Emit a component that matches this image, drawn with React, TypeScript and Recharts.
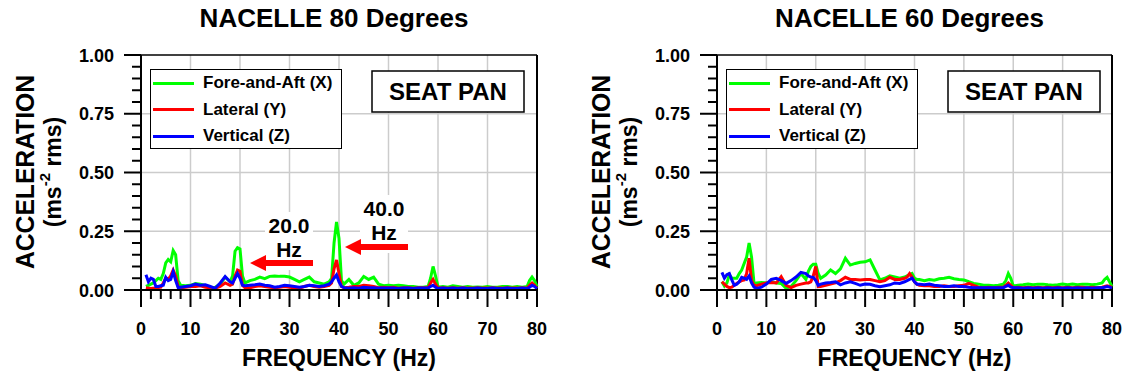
import { Legend, Line, LineChart, ReferenceLine, XAxis, YAxis } from 'recharts';

const FONT = '"Liberation Sans", Arial, Helvetica, sans-serif';

// shared frequency axis (Hz) for every series
const freq = [
  1, 1.5, 2, 2.5, 3, 3.5, 4, 4.5, 5, 5.5, 6, 6.5, 7, 7.5, 8,
  9, 10, 11, 12, 13, 14, 15, 16, 17, 18,
  18.5, 19, 19.5, 20, 20.5, 21,
  22, 23, 24, 25, 26, 27, 28, 29, 30, 31, 32, 33, 34, 35, 36, 37, 38,
  38.5, 39, 39.5, 40, 40.5, 41,
  42, 43, 44, 45, 46, 47, 48, 49, 50, 51, 52, 53, 54, 55, 56, 57, 58,
  58.5, 59, 59.5, 60,
  61, 62, 63, 64, 65, 66, 67, 68, 69, 70, 71, 72, 73, 74, 75, 76, 77, 78,
  78.5, 79, 79.5, 80,
];

// NACELLE 80 degrees, seat pan acceleration (m/s^2 rms)
const n80Fore = [
  0.015, 0.02, 0.025, 0.03, 0.04, 0.05, 0.045, 0.07, 0.115, 0.13, 0.12, 0.168, 0.15, 0.04, 0.02,
  0.018, 0.02, 0.028, 0.025, 0.02, 0.01, 0.012, 0.025, 0.055, 0.035,
  0.06, 0.165, 0.18, 0.175, 0.06, 0.03,
  0.04, 0.045, 0.055, 0.048, 0.058, 0.06, 0.058, 0.058, 0.055, 0.045, 0.035, 0.045, 0.055, 0.035, 0.03, 0.025, 0.035,
  0.05, 0.2, 0.29, 0.22, 0.04, 0.025,
  0.045, 0.02, 0.03, 0.058, 0.045, 0.055, 0.025, 0.018, 0.02, 0.018, 0.02, 0.018, 0.015, 0.015, 0.012, 0.012, 0.015,
  0.05, 0.1, 0.06, 0.012,
  0.015, 0.012, 0.018, 0.015, 0.012, 0.015, 0.012, 0.013, 0.012, 0.015, 0.012, 0.012, 0.015, 0.015, 0.012, 0.015, 0.012, 0.015,
  0.04, 0.055, 0.04, 0.015,
];
const n80Lat = [
  0.01, 0.008, 0.006, 0.007, 0.008, 0.01, 0.012, 0.03, 0.05, 0.045, 0.06, 0.085, 0.06, 0.015, 0.01,
  0.012, 0.015, 0.015, 0.018, 0.012, 0.01, 0.008, 0.015, 0.03, 0.02,
  0.025, 0.06, 0.085, 0.08, 0.02, 0.01,
  0.01, 0.015, 0.018, 0.015, 0.012, 0.01, 0.012, 0.015, 0.012, 0.01, 0.008, 0.015, 0.02, 0.015, 0.012, 0.015, 0.02,
  0.03, 0.09, 0.128, 0.07, 0.015, 0.01,
  0.012, 0.015, 0.015, 0.02, 0.018, 0.015, 0.01, 0.012, 0.01, 0.012, 0.008, 0.01, 0.01, 0.008, 0.01, 0.01, 0.01,
  0.03, 0.045, 0.025, 0.008,
  0.01, 0.008, 0.01, 0.008, 0.01, 0.008, 0.008, 0.01, 0.008, 0.008, 0.01, 0.008, 0.008, 0.01, 0.008, 0.008, 0.01, 0.008,
  0.02, 0.03, 0.02, 0.008,
];
const n80Vert = [
  0.065, 0.035, 0.05, 0.045, 0.015, 0.015, 0.018, 0.02, 0.054, 0.04, 0.045, 0.078, 0.04, 0.01, 0.012,
  0.015, 0.018, 0.025, 0.02, 0.022, 0.015, 0.007, 0.03, 0.057, 0.035,
  0.03, 0.05, 0.07, 0.05, 0.02, 0.018,
  0.02, 0.022, 0.025, 0.02, 0.018, 0.012, 0.015, 0.02, 0.018, 0.015, 0.012, 0.015, 0.02, 0.018, 0.015, 0.018, 0.025,
  0.035, 0.05, 0.064, 0.035, 0.015, 0.01,
  0.008, 0.01, 0.008, 0.012, 0.01, 0.01, 0.008, 0.008, 0.008, 0.008, 0.006, 0.008, 0.008, 0.006, 0.008, 0.008, 0.008,
  0.015, 0.02, 0.012, 0.006,
  0.008, 0.006, 0.008, 0.006, 0.008, 0.006, 0.006, 0.008, 0.006, 0.006, 0.008, 0.006, 0.006, 0.008, 0.006, 0.006, 0.008, 0.006,
  0.012, 0.02, 0.015, 0.006,
];

// NACELLE 60 degrees
const n60Fore = [
  0.035, 0.017, 0.03, 0.064, 0.05, 0.05, 0.05, 0.07, 0.085, 0.113, 0.14, 0.2, 0.14, 0.028, 0.03,
  0.032, 0.03, 0.035, 0.03, 0.028, 0.007, 0.015, 0.04, 0.07, 0.045,
  0.08, 0.1, 0.11, 0.11, 0.07, 0.05,
  0.064, 0.085, 0.07, 0.09, 0.135, 0.106, 0.113, 0.118, 0.12, 0.128, 0.085, 0.043, 0.05, 0.06, 0.055, 0.05, 0.055,
  0.06, 0.065, 0.07, 0.05, 0.045, 0.045,
  0.04, 0.045, 0.042, 0.048, 0.05, 0.054, 0.048, 0.045, 0.043, 0.035, 0.028, 0.025, 0.02, 0.02, 0.018, 0.02, 0.025,
  0.04, 0.07, 0.05, 0.017,
  0.02, 0.022, 0.025, 0.022, 0.025, 0.025, 0.022, 0.02, 0.022, 0.025, 0.022, 0.025, 0.022, 0.025, 0.025, 0.022, 0.025, 0.03,
  0.045, 0.054, 0.035, 0.015,
];
const n60Lat = [
  0.035, 0.025, 0.015, 0.01, 0.012, 0.02, 0.028, 0.035, 0.04, 0.043, 0.07, 0.135, 0.04, 0.02, 0.018,
  0.025, 0.03, 0.032, 0.03, 0.057, 0.02, 0.01, 0.02, 0.025, 0.03,
  0.03, 0.035, 0.06, 0.1, 0.014, 0.015,
  0.02, 0.025, 0.03, 0.04, 0.054, 0.045, 0.045, 0.043, 0.045, 0.045, 0.04, 0.035, 0.04, 0.054, 0.045, 0.045, 0.05,
  0.055, 0.07, 0.055, 0.035, 0.025, 0.02,
  0.018, 0.018, 0.015, 0.015, 0.018, 0.015, 0.015, 0.018, 0.02, 0.028, 0.02, 0.012, 0.01, 0.012, 0.01, 0.012, 0.012,
  0.02, 0.03, 0.02, 0.01,
  0.012, 0.01, 0.012, 0.01, 0.012, 0.01, 0.012, 0.01, 0.012, 0.01, 0.012, 0.01, 0.012, 0.012, 0.01, 0.012, 0.01, 0.012,
  0.015, 0.018, 0.015, 0.012,
];
const n60Vert = [
  0.075, 0.05, 0.065, 0.07, 0.043, 0.02, 0.025, 0.035, 0.054, 0.05, 0.045, 0.06, 0.03, 0.012, 0.007,
  0.012, 0.025, 0.045, 0.05, 0.04, 0.028, 0.04, 0.055, 0.075, 0.07,
  0.06, 0.055, 0.054, 0.04, 0.02, 0.025,
  0.03, 0.032, 0.035, 0.022, 0.03, 0.035, 0.028, 0.02, 0.025, 0.024, 0.018, 0.014, 0.018, 0.022, 0.03, 0.028, 0.035,
  0.04, 0.045, 0.05, 0.035, 0.025, 0.025,
  0.022, 0.025, 0.02, 0.018, 0.015, 0.015, 0.018, 0.015, 0.015, 0.012, 0.01, 0.01, 0.01, 0.01, 0.01, 0.01, 0.01,
  0.015, 0.02, 0.012, 0.01,
  0.01, 0.008, 0.01, 0.008, 0.01, 0.008, 0.01, 0.008, 0.01, 0.008, 0.01, 0.008, 0.01, 0.008, 0.01, 0.008, 0.01, 0.01,
  0.012, 0.015, 0.012, 0.008,
];

const seriesNames = ['Fore-and-Aft (X)', 'Lateral (Y)', 'Vertical (Z)'];
const seriesColors = ['#00ff00', '#ff0000', '#0000ff'];

const freqTicks = Array.from({ length: 41 }, (_, i) => i * 2);
const freqGrid = [10, 20, 30, 40, 50, 60, 70];
const accelTicks = Array.from({ length: 21 }, (_, i) => i / 20);
const accelGrid = [0.25, 0.5, 0.75];

const H = 377;

function FreqTick({ x, y, payload }: any) {
  const major = payload.value % 10 === 0;
  return (
    <g>
      <line x1={x} x2={x} y1={y} y2={y + (major ? 17 : 9)} stroke="#000" strokeWidth={2} />
      {major && (
        <text x={x} y={y + 45} textAnchor="middle" fontSize={18} fontWeight="bold" fontFamily={FONT} fill="#000">
          {payload.value}
        </text>
      )}
    </g>
  );
}

function AccelTick({ x, y, payload }: any) {
  const major = Math.round(payload.value * 100) % 25 === 0;
  return (
    <g>
      <line x1={x} x2={x - (major ? 17 : 9)} y1={y} y2={y} stroke="#000" strokeWidth={2} />
      {major && (
        <text x={x - 27} y={y + 6.5} textAnchor="end" fontSize={18} fontWeight="bold" fontFamily={FONT} fill="#000">
          {payload.value.toFixed(2)}
        </text>
      )}
    </g>
  );
}

function LegendBox({ payload }: any) {
  return (
    <div
      style={{
        width: 192,
        height: 80,
        boxSizing: 'border-box',
        border: '1.5px solid #000',
        background: '#fff',
        fontFamily: FONT,
        fontWeight: 'bold',
        fontSize: 17,
      }}
    >
      {(payload || []).map((p: any) => (
        <div key={p.value} style={{ display: 'flex', alignItems: 'center', height: 26.5 }}>
          <span style={{ display: 'inline-block', width: 41, height: 3, background: p.color, marginLeft: 2, marginRight: 9 }} />
          <span>{p.value}</span>
        </div>
      ))}
    </div>
  );
}

function Arrow({ tip, tail, y }: { tip: number; tail: number; y: number }) {
  const h = tip + 16;
  const pts = [
    [tip, y], [h, y - 8], [h, y - 3], [tail, y - 3], [tail, y + 3], [h, y + 3], [h, y + 8],
  ].map((p) => p.join(',')).join(' ');
  return <polygon points={pts} fill="#ff0000" />;
}

type PanelProps = {
  title: string;
  left: number;
  width: number;
  plotLeft: number;
  plotRight: number;
  fore: number[];
  lat: number[];
  vert: number[];
  notes?: boolean;
};

function Panel({ title, left, width, plotLeft, plotRight, fore, lat, vert, notes }: PanelProps) {
  const rows = freq.map((f, i) => ({ f, x: fore[i], y: lat[i], z: vert[i] }));
  const mid = (plotLeft + plotRight) / 2;
  const yMid = 172;
  const text = { fontFamily: FONT, fontWeight: 'bold' as const, fill: '#000' };
  return (
    <div style={{ position: 'absolute', left, top: 0 }}>
      <LineChart
        width={width}
        height={H}
        data={rows}
        margin={{ top: 55, right: width - plotRight, bottom: 37, left: plotLeft - 60 }}
      >
        {freqGrid.map((v) => (
          <ReferenceLine key={`gx${v}`} x={v} stroke="#cccccc" strokeWidth={1.5} zIndex={-50} />
        ))}
        {accelGrid.map((v) => (
          <ReferenceLine key={`gy${v}`} y={v} stroke="#cccccc" strokeWidth={1.5} zIndex={-50} />
        ))}
        <XAxis
          dataKey="f"
          type="number"
          domain={[0, 80]}
          ticks={freqTicks}
          interval={0}
          height={50}
          tickSize={0}
          tickMargin={0}
          tickLine={false}
          tick={<FreqTick />}
          axisLine={{ stroke: '#000', strokeWidth: 2 }}
        />
        <YAxis
          type="number"
          domain={[0, 1]}
          ticks={accelTicks}
          interval={0}
          width={60}
          tickSize={0}
          tickMargin={0}
          tickLine={false}
          tick={<AccelTick />}
          axisLine={{ stroke: '#000', strokeWidth: 2 }}
        />
        <ReferenceLine y={1} stroke="#000" strokeWidth={1.5} />
        <ReferenceLine x={80} stroke="#000" strokeWidth={2} />

        {/* boxed labels sit over the grid, under the traces */}
        <rect x={plotLeft + 231} y={71} width={152} height={41} fill="#fff" stroke="#000" strokeWidth={1.5} />
        <text x={plotLeft + 307} y={100} textAnchor="middle" fontSize={24} {...text}>SEAT PAN</text>
        {notes && (
          <g>
            <rect x={265} y={212} width={48} height={58} fill="#fff" />
            <rect x={360} y={195} width={48} height={58} fill="#fff" />
            <text x={289} y={233} textAnchor="middle" fontSize={21} {...text}>20.0</text>
            <text x={289} y={257} textAnchor="middle" fontSize={21} {...text}>Hz</text>
            <Arrow tip={250} tail={313} y={263} />
            <text x={384} y={216} textAnchor="middle" fontSize={21} {...text}>40.0</text>
            <text x={384} y={240} textAnchor="middle" fontSize={21} {...text}>Hz</text>
            <Arrow tip={345} tail={408} y={247} />
          </g>
        )}

        <Line dataKey="x" name={seriesNames[0]} stroke={seriesColors[0]} strokeWidth={3} dot={false} isAnimationActive={false} />
        <Line dataKey="y" name={seriesNames[1]} stroke={seriesColors[1]} strokeWidth={3} dot={false} isAnimationActive={false} />
        <Line dataKey="z" name={seriesNames[2]} stroke={seriesColors[2]} strokeWidth={3} dot={false} isAnimationActive={false} />
        <Legend
          layout="vertical"
          align="center"
          verticalAlign="middle"
          content={<LegendBox />}
          wrapperStyle={{ position: 'absolute', left: plotLeft + 9, top: 69, width: 192, height: 80 }}
        />

        <text x={mid - 5} y={27} textAnchor="middle" fontSize={26} {...text}>{title}</text>
        <text x={mid} y={366} textAnchor="middle" fontSize={23} {...text}>FREQUENCY (Hz)</text>
        <text
          transform={`translate(${plotLeft - 116}, ${yMid}) rotate(-90)`}
          textAnchor="middle"
          dominantBaseline="central"
          fontSize={26}
          textLength={194}
          lengthAdjust="spacingAndGlyphs"
          {...text}
        >
          ACCELERATION
        </text>
        <text
          transform={`translate(${plotLeft - 88}, ${yMid}) rotate(-90)`}
          textAnchor="middle"
          dominantBaseline="central"
          fontSize={23}
          {...text}
        >
          (ms<tspan fontSize={15} dy={-9}>-2</tspan><tspan dy={9}> rms)</tspan>
        </text>
      </LineChart>
    </div>
  );
}

export default function App() {
  return (
    <div style={{ position: 'absolute', left: 0, top: 0, width: 1125, height: H, background: '#fff' }}>
      <Panel title="NACELLE 80 Degrees" left={0} width={560} plotLeft={141} plotRight={537}
        fore={n80Fore} lat={n80Lat} vert={n80Vert} notes />
      <Panel title="NACELLE 60 Degrees" left={560} width={565} plotLeft={157} plotRight={552}
        fore={n60Fore} lat={n60Lat} vert={n60Vert} />
    </div>
  );
}
